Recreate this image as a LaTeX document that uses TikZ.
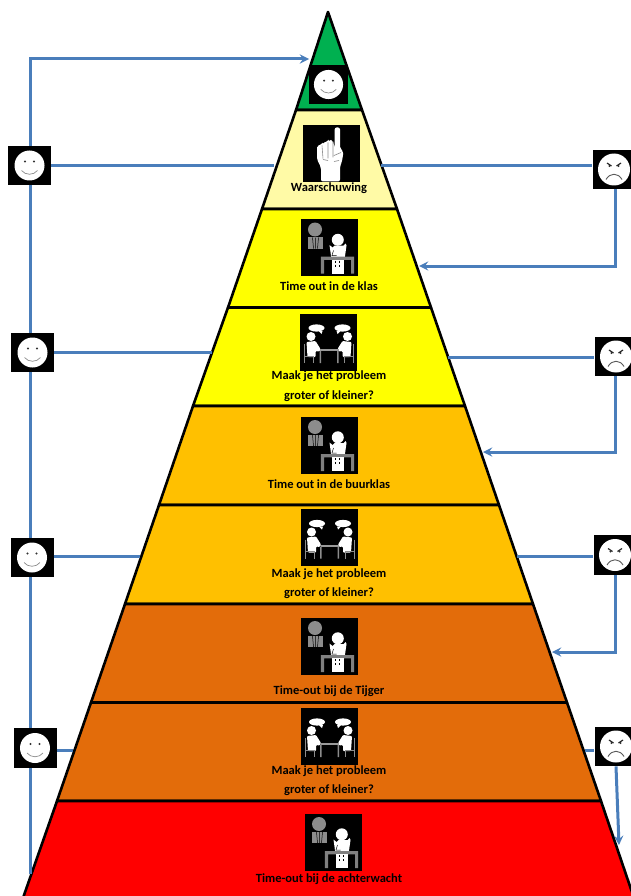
\documentclass[tikz,border=0pt]{standalone}
\usepackage{fontspec}
\setmainfont{Carlito}
\definecolor{flowblue}{HTML}{4A7EBB}
\definecolor{topgreen}{HTML}{00B050}
\definecolor{paleyellow}{HTML}{FFFAA6}
\definecolor{fullyellow}{HTML}{FFFF00}
\definecolor{midorange}{HTML}{FFC000}
\definecolor{darkorange}{HTML}{E36C0A}
\definecolor{fullred}{HTML}{FF0000}
\tikzset{
    band/.style={draw=black, line width=2.6pt, line join=round},
    flow/.style={draw=flowblue, line width=3pt, >=stealth},
    iconbox/.style={fill=black, inner sep=0pt, minimum width=#1, minimum height=#1},
    facebox/.style={fill=black, inner sep=0pt, minimum width=43pt, minimum height=39.5pt},
    caption/.style={font=\fontsize{12.5}{13}\selectfont\bfseries, text=black, inner sep=0pt},
    smile/.pic={
        \fill[white] (0,0) circle (15);
        \fill[black!80] (-4.5,-4) circle (1.1) (4.5,-4) circle (1.1);
        \draw[black!45, line width=.7pt] (-8,5) .. controls (-4,10) and (4,10) .. (8,5);
    },
    frown/.pic={
        \fill[white] (0,0) circle (16);
        \draw[black!85, line width=1.2pt] (-7,-6.5) -- (-2.5,-3.5) (7,-6.5) -- (2.5,-3.5);
        \fill[black!80] (-4.5,-3.5) circle (1.1) (4.5,-3.5) circle (1.1);
        \draw[black!65, line width=.9pt] (-8,10) .. controls (-4,3) and (4,3) .. (8,10);
    },
    finger/.pic={
        \fill[white, rounded corners=2pt] (3.7,-26) -- (9,-26) -- (9,-5) -- (12.5,-2) -- (11,8) -- (9,13) -- (9,28) -- (-10,28) -- (-10,14) -- (-14,6) -- (-14,-8) -- (-9,-9) -- (-8,-11) -- (-3,-12) -- (-2,-14) -- (2,-13) -- (3.7,-5) -- cycle;
        \draw[black!45, line width=.6pt] (-9,-8) -- (-8,5) (-3,-11) -- (-3,5) (2,-12) -- (2,4) (3,2) -- (10,-1) (3,8) -- (8,7) (-8,6) -- (-3,7);
    },
    timeout/.pic={
        \fill[black!45] (-14.5,-18) circle (7);
        \fill[black!45] (-21.5,-10.5) rectangle (-6.5,1);
        \draw[black, line width=.5pt] (-17,-10) -- (-16,1) (-14,-10) -- (-14,1) (-11,-10) -- (-12,1);
        \fill[white] (8.3,-7.7) circle (6);
        \fill[white] (0,-2.5) -- (3,0) -- (5,-2) -- (14,-2) -- (16,-4) -- (17,-2) -- (15,12) -- (2,12) -- cycle;
        \draw[black, line width=.5pt] (4,3) -- (2.5,8) -- (7,8);
        \fill[black!50] (-8.7,9) rectangle (24.7,12.3) (-8.7,9) rectangle (-5.5,26) (21.5,9) rectangle (24.7,26);
        \fill[white] (2.3,12.3) rectangle (14,26);
        \draw[black, line width=.5pt, dash pattern=on 2pt off 2pt] (6,13) -- (6,20) (10,13) -- (10,20);
    },
    talk/.pic={
        \fill[white] (-12,-14) ellipse (8 and 3.6) (14,-14) ellipse (8 and 3.6);
        \fill[white] (-10,-11) -- (-6,-11) -- (-7,-8) -- cycle (12,-11) -- (8,-11) -- (9,-8) -- cycle;
        \fill[white] (-17.5,-5.5) circle (4.5) (19,-5.5) circle (4.5);
        \fill[white, rounded corners=1pt] (-22,0) -- (-13,-1) -- (-8,7) -- (-9,9.5) -- (-13,9) -- (-13,15) -- (-21,15) -- cycle;
        \fill[white, rounded corners=1pt] (23,0) -- (14,-1) -- (9,7) -- (10,9.5) -- (14,9) -- (14,15) -- (22,15) -- cycle;
        \fill[black!40] (-8.5,7) rectangle (10,9);
        \fill[black!45] (-9,9) rectangle (-7.5,21) (8.5,9) rectangle (10,21);
        \draw[black!45, line width=1pt] (-24,2) -- (-24,21) (-24,14) -- (-15,14) -- (-15,21) (25,2) -- (25,21) (25,14) -- (16,14) -- (16,21);
    }
}

\begin{document}
\begin{tikzpicture}[x=1pt, y=-1pt]
    \useasboundingbox (0,0) rectangle (631,896);
    \clip (0,0) rectangle (631,896);

    % pyramid, top to bottom
    \filldraw[band, fill=topgreen] (328,12) -- (362,110) -- (296,110) -- cycle;
    \filldraw[band, fill=paleyellow] (296,110) -- (362,110) -- (397,209) -- (262,209) -- cycle;
    \filldraw[band, fill=fullyellow] (262,209) -- (397,209) -- (431,307.5) -- (228,307.5) -- cycle;
    \filldraw[band, fill=fullyellow] (228,307.5) -- (431,307.5) -- (465,406) -- (193,406) -- cycle;
    \filldraw[band, fill=midorange] (193,406) -- (465,406) -- (499,505) -- (159,505) -- cycle;
    \filldraw[band, fill=midorange] (159,505) -- (499,505) -- (533,604) -- (125,604) -- cycle;
    \filldraw[band, fill=darkorange] (125,604) -- (533,604) -- (567,702.5) -- (91,702.5) -- cycle;
    \filldraw[band, fill=darkorange] (91,702.5) -- (567,702.5) -- (601,801) -- (57,801) -- cycle;
    \filldraw[band, fill=fullred] (57,801) -- (601,801) -- (634,898) -- (23,898) -- cycle;

    % free ends
    \coordinate (trunkTop) at (30.5,59);
    \coordinate (trunkEnd) at (30.5,874);
    \coordinate (topTip) at (309,59);
    \coordinate (edgeA) at (274,166);
    \coordinate (edgeB) at (212,352);
    \coordinate (edgeC) at (140,556);
    \coordinate (edgeD) at (73,750);
    \coordinate (edgeE) at (381,166);
    \coordinate (edgeF) at (448,357);
    \coordinate (edgeG) at (517,556);
    \coordinate (edgeH) at (585,750);
    \coordinate (tipA) at (419,266);
    \coordinate (tipB) at (483,452);
    \coordinate (tipC) at (552,652);
    \coordinate (tipD) at (619,845);

    \draw[flow, ->] (trunkEnd) -- (trunkTop) -- (topTip);

    % faces at the sides
    \node[facebox] (smileA) at (29.5,165.5) {};
    \node[facebox] (smileB) at (32.5,352.5) {};
    \node[facebox] (smileC) at (32,557.5) {};
    \node[facebox] (smileD) at (35,748) {};
    \node[facebox] (frownA) at (614,169.5) {};
    \node[facebox] (frownB) at (616,356.5) {};
    \node[facebox] (frownC) at (615,555) {};
    \node[facebox] (frownD) at (616,746.5) {};
    \foreach \n in {smileA, smileB, smileC, smileD} \pic at (\n) {smile};
    \foreach \n in {frownA, frownB, frownC, frownD} \pic at (\n) {frown};

    \draw[flow] (edgeA -| smileA.east) -- (edgeA);
    \draw[flow] (edgeB -| smileB.east) -- (edgeB);
    \draw[flow] (edgeC -| smileC.east) -- (edgeC);
    \draw[flow] (edgeD -| smileD.east) -- (edgeD);
    \draw[flow] (edgeE) -- (edgeE -| frownA.west);
    \draw[flow] (edgeF) -- (edgeF -| frownB.west);
    \draw[flow] (edgeG) -- (edgeG -| frownC.west);
    \draw[flow] (edgeH) -- (edgeH -| frownD.west);
    \draw[flow, ->] ([xshift=1pt]frownA.south) |- (tipA);
    \draw[flow, ->] ([xshift=-1pt]frownB.south) |- (tipB);
    \draw[flow, ->] (frownC.south) |- (tipC);
    \draw[flow, ->] (frownD.south) -- (tipD);

    % icons in the bands
    \node[iconbox=39pt] (topFace) at (328.5,84.5) {};
    \pic[scale=.97] at (topFace) {smile};
    \node[iconbox=57pt] (fingerBox) at (331,153.5) {};
    \pic at (fingerBox) {finger};
    \node[iconbox=57pt] (klasBox) at (329.5,247.5) {};
    \pic at (klasBox) {timeout};
    \node[iconbox=57pt] (talkA) at (328.5,342) {};
    \pic at (talkA) {talk};
    \node[iconbox=57pt] (buurBox) at (329.5,445) {};
    \pic at (buurBox) {timeout};
    \node[iconbox=57pt] (talkB) at (329,537.5) {};
    \pic at (talkB) {talk};
    \node[iconbox=57pt] (tijgerBox) at (329.5,646) {};
    \pic at (tijgerBox) {timeout};
    \node[iconbox=57pt] (talkC) at (329,736) {};
    \pic at (talkC) {talk};
    \node[iconbox=57pt] (wachtBox) at (333.5,842) {};
    \pic at (wachtBox) {timeout};

    % captions
    \node[caption] (capWarn) at (329,188.5) {Waarschuwing};
    \node[caption] (capKlas) at (329,286.5) {Time out in de klas};
    \node[caption] (capAa) at (329,376.5) {Maak je het probleem};
    \node[caption] (capAb) at (329,396.5) {groter of kleiner?};
    \node[caption] (capBuur) at (329,484.5) {Time out in de buurklas};
    \node[caption] (capBa) at (329,574.5) {Maak je het probleem};
    \node[caption] (capBb) at (329,593.5) {groter of kleiner?};
    \node[caption] (capTijger) at (329,691.5) {Time-out bij de Tijger};
    \node[caption] (capCa) at (329,771.5) {Maak je het probleem};
    \node[caption] (capCb) at (329,790.5) {groter of kleiner?};
    \node[caption] (capWacht) at (329,879.5) {Time-out bij de achterwacht};
\end{tikzpicture}
\end{document}
